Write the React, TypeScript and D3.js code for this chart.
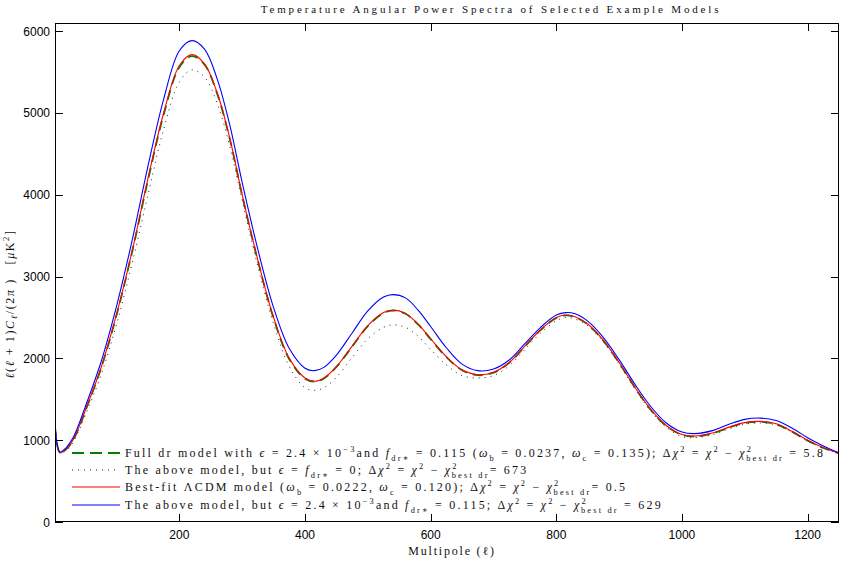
import React from "react";
import * as d3 from "d3";

// ---- data ----
const multipoles = [2, 10, 20, 30, 40, 50, 75, 100, 125, 150, 175, 200, 220, 240, 260, 280, 300, 325, 350, 375, 400, 415, 430, 450, 475, 500, 525, 540, 560, 580, 600, 625, 650, 675, 700, 725, 750, 775, 800, 815, 830, 850, 875, 900, 925, 950, 975, 1000, 1020, 1050, 1075, 1100, 1125, 1150, 1175, 1200, 1225, 1250];

const fullDr = [1170, 845, 890, 990, 1150, 1350, 1870, 2530, 3310, 4180, 4980, 5560, 5695, 5590, 5240, 4690, 3990, 3190, 2490, 1990, 1750, 1715, 1755, 1895, 2145, 2395, 2555, 2585, 2545, 2415, 2235, 2015, 1855, 1795, 1825, 1945, 2145, 2345, 2495, 2525, 2505, 2415, 2215, 1945, 1645, 1375, 1175, 1065, 1045, 1085, 1155, 1210, 1225, 1195, 1105, 995, 905, 838];
const noDr = [1150, 840, 875, 965, 1115, 1300, 1790, 2420, 3170, 4000, 4800, 5380, 5526, 5440, 5120, 4600, 3930, 3120, 2420, 1900, 1640, 1610, 1640, 1770, 2010, 2240, 2380, 2410, 2380, 2270, 2110, 1920, 1790, 1760, 1790, 1910, 2110, 2310, 2460, 2500, 2480, 2400, 2200, 1930, 1630, 1360, 1160, 1045, 1030, 1070, 1140, 1195, 1210, 1185, 1100, 990, 905, 835];
const lcdm = [1180, 845, 895, 995, 1160, 1360, 1880, 2540, 3320, 4200, 5000, 5580, 5713, 5600, 5250, 4700, 4000, 3200, 2500, 2000, 1760, 1720, 1760, 1900, 2150, 2400, 2560, 2590, 2550, 2420, 2240, 2020, 1860, 1800, 1830, 1950, 2150, 2350, 2500, 2530, 2510, 2420, 2220, 1950, 1650, 1380, 1180, 1070, 1050, 1090, 1160, 1215, 1230, 1200, 1110, 1000, 910, 840];
const lcdmWithDr = [1210, 855, 910, 1020, 1195, 1405, 1950, 2640, 3450, 4350, 5170, 5760, 5884, 5780, 5420, 4860, 4150, 3330, 2620, 2120, 1880, 1850, 1890, 2040, 2310, 2580, 2750, 2780, 2740, 2590, 2390, 2130, 1930, 1850, 1870, 1980, 2180, 2380, 2530, 2560, 2545, 2455, 2255, 1985, 1685, 1415, 1210, 1100, 1080, 1120, 1195, 1255, 1270, 1240, 1150, 1030, 930, 845];

const xTicks = [200, 400, 600, 800, 1000, 1200];
const yTicks = [0, 1000, 2000, 3000, 4000, 5000, 6000];
const xDomain = [2, 1250];
const yDomain = [0, 6100];

const titleText = "Temperature Angular Power Spectra of Selected Example Models";
const xLabelText = "Multipole (ℓ)";

// ---- layout ----
const W = 843, H = 566;
const L = 55, R = 839, T = 23, B = 522;

const SERIF = "'Liberation Serif', 'DejaVu Serif', serif";
const SANS = "'Liberation Sans', Arial, sans-serif";

type Seg = { t: string; i?: boolean; s?: "sup" | "sub"; back?: number };

function Rich({ segs, x, y, size = 12, ls = 2.2 }: { segs: Seg[]; x: number; y: number; size?: number; ls?: number }) {
  let cur = 0;
  const small = size * 0.7;
  return (
    <text x={x} y={y} fontFamily={SERIF} fontSize={size} letterSpacing={ls} fill="#111" style={{ whiteSpace: "pre" }}>
      {segs.map((sg, k) => {
        const target = sg.s === "sup" ? -size * 0.42 : sg.s === "sub" ? size * 0.3 : 0;
        const dy = target - cur;
        cur = target;
        return (
          <tspan key={k} dy={dy} dx={sg.back ? -sg.back : undefined} fontStyle={sg.i ? "italic" : undefined} fontSize={sg.s ? small : undefined}>
            {sg.t}
          </tspan>
        );
      })}
    </text>
  );
}

const chiBest = (tail: string): Seg[] => [
  { t: "; Δ" }, { t: "χ", i: true }, { t: "2", s: "sup" }, { t: " = " }, { t: "χ", i: true }, { t: "2", s: "sup" }, { t: " − " },
  { t: "χ", i: true }, { t: "2", s: "sup" }, { t: "best dr", s: "sub", back: 7 }, { t: tail },
];

const legendRows: { segs: Seg[]; color: string; dash?: string; width: number }[] = [
  {
    color: "#008000", dash: "12,6", width: 2,
    segs: [
      { t: "Full dr model with " }, { t: "ϵ", i: true }, { t: " = 2.4 × 10" }, { t: "−3", s: "sup" }, { t: "and " },
      { t: "f", i: true }, { t: "dr∗", s: "sub" }, { t: " = 0.115 (" }, { t: "ω", i: true }, { t: "b", s: "sub" }, { t: " = 0.0237, " },
      { t: "ω", i: true }, { t: "c", s: "sub" }, { t: " = 0.135)" }, ...chiBest(" = 5.8"),
    ],
  },
  {
    color: "#222", dash: "1,5", width: 1,
    segs: [
      { t: "The above model, but " }, { t: "ϵ", i: true }, { t: " = " }, { t: "f", i: true }, { t: "dr∗", s: "sub" }, { t: " = 0" },
      ...chiBest("= 673"),
    ],
  },
  {
    color: "#ff0000", width: 1,
    segs: [
      { t: "Best-fit ΛCDM model (" }, { t: "ω", i: true }, { t: "b", s: "sub" }, { t: " = 0.0222, " }, { t: "ω", i: true }, { t: "c", s: "sub" },
      { t: " = 0.120)" }, ...chiBest("= 0.5"),
    ],
  },
  {
    color: "#0000ff", width: 1,
    segs: [
      { t: "The above model, but " }, { t: "ϵ", i: true }, { t: " = 2.4 × 10" }, { t: "−3", s: "sup" }, { t: "and " },
      { t: "f", i: true }, { t: "dr∗", s: "sub" }, { t: " = 0.115" }, ...chiBest(" = 629"),
    ],
  },
];

export default function App() {
  const x = d3.scaleLinear().domain(xDomain).range([L, R]);
  const y = d3.scaleLinear().domain(yDomain).range([B, T]);
  const line = d3
    .line<number>()
    .x((_, i) => x(multipoles[i]))
    .y((d) => y(d))
    .curve(d3.curveCatmullRom.alpha(0.5));

  const series = [
    { vals: fullDr, color: "#008000", dash: "10,6", width: 1.8 },
    { vals: noDr, color: "#222", dash: "1,5", width: 1 },
    { vals: lcdm, color: "#ff0000", width: 1.1 },
    { vals: lcdmWithDr, color: "#0000ff", width: 1.1 },
  ];

  const rowY = [457, 474, 491, 509];

  return (
    <svg width={W} height={H} style={{ position: "absolute", left: 0, top: 0, background: "#fff" }}>
      <defs>
        <clipPath id="plot">
          <rect x={L} y={T} width={R - L} height={B - T} />
        </clipPath>
      </defs>
      <rect x={0} y={0} width={W} height={H} fill="#fff" />

      <g clipPath="url(#plot)">
        {series.map((s, k) => (
          <path key={k} d={line(s.vals) || ""} fill="none" stroke={s.color} strokeWidth={s.width} strokeDasharray={s.dash} />
        ))}
      </g>

      {/* frame */}
      <rect x={L + 0.5} y={T + 0.5} width={R - L - 1} height={B - T - 1} fill="none" stroke="#000" strokeWidth={1} />

      {/* ticks */}
      {xTicks.map((t) => (
        <g key={"x" + t}>
          <line x1={Math.round(x(t)) + 0.5} x2={Math.round(x(t)) + 0.5} y1={B} y2={B - 8} stroke="#000" />
          <line x1={Math.round(x(t)) + 0.5} x2={Math.round(x(t)) + 0.5} y1={T} y2={T + 8} stroke="#000" />
          <text x={x(t)} y={539} textAnchor="middle" fontFamily={SANS} fontSize={12} fill="#000">
            {t}
          </text>
        </g>
      ))}
      {yTicks.map((t) => (
        <g key={"y" + t}>
          <line x1={L} x2={L + 8} y1={Math.round(y(t)) + 0.5} y2={Math.round(y(t)) + 0.5} stroke="#000" />
          <line x1={R} x2={R - 8} y1={Math.round(y(t)) + 0.5} y2={Math.round(y(t)) + 0.5} stroke="#000" />
          <text x={50} y={y(t) + 4.5} textAnchor="end" fontFamily={SANS} fontSize={12} fill="#000">
            {t}
          </text>
        </g>
      ))}

      {/* title */}
      <text x={491} y={13} textAnchor="middle" fontFamily={SERIF} fontSize={11} letterSpacing={2.85} fill="#111">
        {titleText}
      </text>

      {/* x label */}
      <text x={452} y={555} textAnchor="middle" fontFamily={SERIF} fontSize={12} letterSpacing={1.8} fill="#111">
        {xLabelText}
      </text>

      {/* y label */}
      <g transform="translate(14,304) rotate(-90)">
        <text x={0} y={0} textAnchor="middle" fontFamily={SERIF} fontSize={12} letterSpacing={1.6} fill="#111" style={{ whiteSpace: "pre" }}>
          <tspan fontStyle="italic">ℓ</tspan>
          <tspan>(</tspan>
          <tspan fontStyle="italic">ℓ</tspan>
          <tspan> + 1)</tspan>
          <tspan fontStyle="italic">C</tspan>
          <tspan fontStyle="italic" fontSize={8.5} dy={3}>ℓ</tspan>
          <tspan dy={-3}>/(2</tspan>
          <tspan fontStyle="italic">π</tspan>
          <tspan> )   [</tspan>
          <tspan fontStyle="italic">μ</tspan>
          <tspan>K</tspan>
          <tspan fontSize={8.5} dy={-5}>2</tspan>
          <tspan dy={5}>]</tspan>
        </text>
      </g>

      {/* legend */}
      {legendRows.map((r, k) => (
        <g key={"l" + k}>
          <line x1={72} x2={120} y1={rowY[k] - 4} y2={rowY[k] - 4} stroke={r.color} strokeWidth={r.width} strokeDasharray={r.dash} />
          <Rich segs={r.segs} x={125} y={rowY[k]} />
        </g>
      ))}
    </svg>
  );
}
